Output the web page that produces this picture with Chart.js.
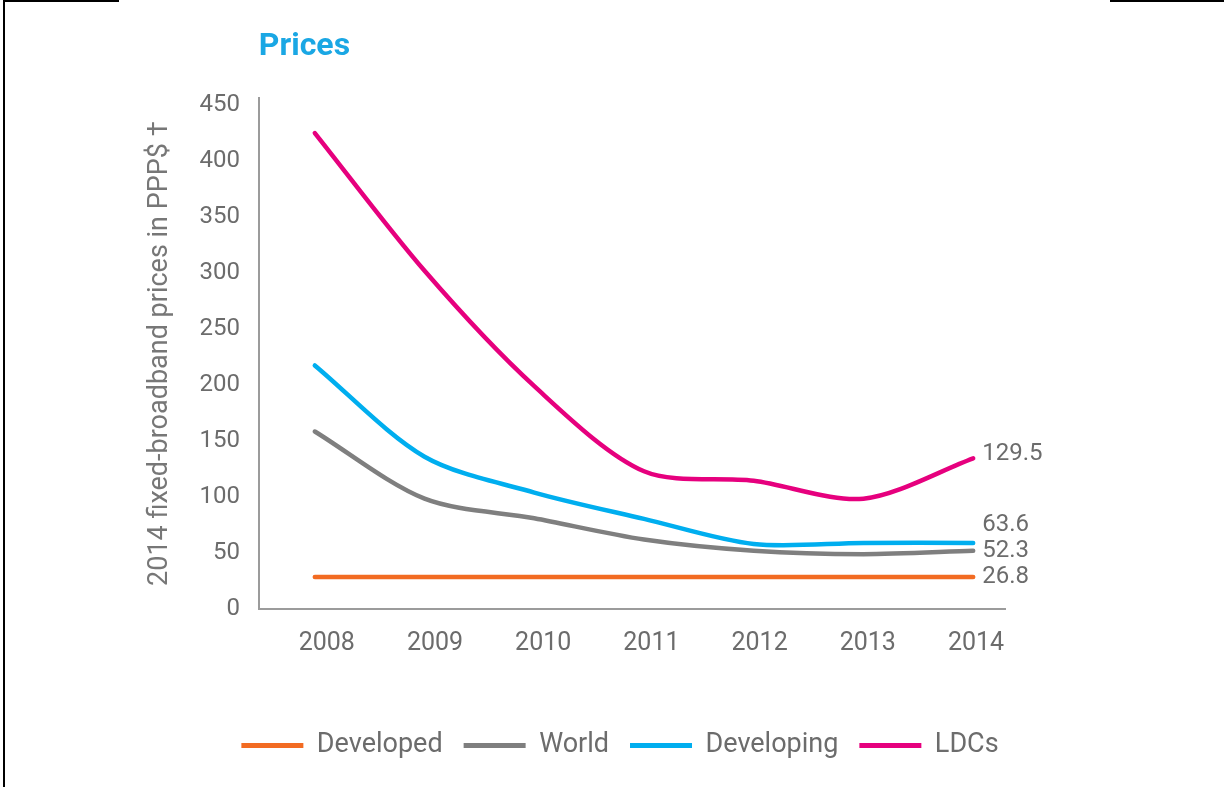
<!DOCTYPE html>
<html>
<head>
<meta charset="utf-8">
<title>Prices</title>
<script src="https://cdn.jsdelivr.net/npm/chart.js@4/dist/chart.umd.min.js"></script>
<style>
    html, body { margin: 0; padding: 0; background: #fff; }
    #wrap { position: relative; width: 1224px; height: 787px; overflow: hidden; }
    .rule { position: absolute; background: #000; }
</style>
</head>
<body>
<div id="wrap">
    <div class="rule" style="left:3px;top:0;width:2px;height:787px;"></div>
    <div class="rule" style="left:3px;top:0;width:116px;height:2px;"></div>
    <div class="rule" style="left:1110px;top:0;width:114px;height:2px;"></div>
    <canvas id="pricesChart" width="1224" height="787"></canvas>
</div>
<script>
(function () {
    'use strict';

    // ── data ──────────────────────────────────────────────────
    var years      = [2008, 2009, 2010, 2011, 2012, 2013, 2014];
    var developed  = [28.5, 28.5, 28.5, 28.5, 28.5, 28.5, 28.5];
    var world      = [158.5, 98.5, 81, 62, 52, 49, 52];
    var developing = [217.5, 136, 104, 80.5, 58, 59, 59];
    var ldcs       = [425, 302, 199, 123, 114.5, 98.5, 134.5];
    var seriesNames = ['Developed', 'World', 'Developing', 'LDCs'];
    var endLabels   = ['26.8', '52.3', '63.6', '129.5'];
    var yTicks      = [0, 50, 100, 150, 200, 250, 300, 350, 400, 450];

    // ── style ────────────────────────────────────────────────
    var COLORS      = ['#f26b22', '#7f7f7f', '#00aeef', '#e6007e'];
    var LABEL_NUDGE = [0, 0, -18, -4];   // keeps 63.6 clear of 52.3
    var TEXT_GREY   = '#6c6c6c';
    var AXIS_GREY   = '#9b9b9b';

    function toPoints(vals) {
        return vals.map(function (v, i) { return { x: years[i], y: v }; });
    }

    var allSeries = [developed, world, developing, ldcs];
    var datasets = allSeries.map(function (vals, i) {
        return {
            label: seriesNames[i],
            data: toPoints(vals),
            xAxisID: 'x',
            yAxisID: 'y',
            borderColor: COLORS[i],
            backgroundColor: COLORS[i],
            borderWidth: 4.5,
            pointRadius: 0,
            tension: 0.3,
            borderCapStyle: 'round',
            borderJoinStyle: 'round'
        };
    });

    // 線尾的數值標籤
    var endLabelPlugin = {
        id: 'endLabels',
        afterDatasetsDraw: function (chart) {
            var ctx = chart.ctx;
            ctx.save();
            ctx.font = '24px Roboto';
            ctx.fillStyle = TEXT_GREY;
            ctx.textAlign = 'left';
            ctx.textBaseline = 'middle';
            chart.data.datasets.forEach(function (ds, i) {
                var meta = chart.getDatasetMeta(i);
                var pt = meta.data[meta.data.length - 1];
                if (!pt) return;
                ctx.fillText(endLabels[i], pt.x + 9, pt.y + LABEL_NUDGE[i]);
            });
            ctx.restore();
        }
    };

    var canvas = document.getElementById('pricesChart');
    new Chart(canvas.getContext('2d'), {
        type: 'line',
        data: { datasets: datasets },
        plugins: [endLabelPlugin],
        options: {
            responsive: false,
            animation: false,
            layout: { padding: { left: 144, right: 128, top: 18, bottom: 18 } },
            plugins: {
                title: {
                    display: true,
                    text: 'Prices',
                    align: 'start',
                    fullSize: false,
                    color: '#1aa7e4',
                    font: { family: 'Roboto', size: 32, weight: 'bold' },
                    padding: { top: 10, bottom: 32 }
                },
                legend: {
                    position: 'bottom',
                    labels: {
                        boxWidth: 62,
                        boxHeight: 5,
                        padding: 21,
                        color: TEXT_GREY,
                        font: { family: 'Roboto', size: 27 },
                        generateLabels: function (chart) {
                            return Chart.defaults.plugins.legend.labels.generateLabels(chart).map(function (l) {
                                l.lineWidth = 0;
                                return l;
                            });
                        }
                    }
                },
                tooltip: { enabled: false }
            },
            scales: {
                // data axis (hidden) — places the points
                x: {
                    type: 'linear',
                    display: false,
                    min: 2007.49,
                    max: 2014.29
                },
                // label axis — the year labels in the reference sit a bit right of the points
                xl: {
                    type: 'linear',
                    position: 'bottom',
                    min: 2007.372,
                    max: 2014.268,
                    afterBuildTicks: function (axis) {
                        axis.ticks = years.map(function (y) { return { value: y }; });
                    },
                    afterFit: function (axis) { axis.height = 102; },
                    grid: { display: false, drawTicks: false },
                    border: { display: true, color: AXIS_GREY, width: 2 },
                    ticks: {
                        padding: 20,
                        color: TEXT_GREY,
                        font: { family: 'Roboto', size: 25 },
                        callback: function (v) { return String(v); }
                    }
                },
                y: {
                    type: 'linear',
                    min: 0,
                    max: 456,
                    afterBuildTicks: function (axis) {
                        axis.ticks = yTicks.map(function (v) { return { value: v }; });
                    },
                    grid: { display: false, drawTicks: false },
                    border: { display: true, color: AXIS_GREY, width: 2 },
                    ticks: {
                        padding: 19,
                        color: TEXT_GREY,
                        font: { family: 'Roboto', size: 24 }
                    },
                    title: {
                        display: true,
                        text: '2014 fixed-broadband prices in PPP$ \u2020',
                        color: '#777777',
                        font: { family: 'Roboto', size: 27 },
                        padding: { top: 0, bottom: 4 }
                    }
                },
                // empty right-hand spacer so the legend centres like the reference
                yr: {
                    type: 'linear',
                    position: 'right',
                    min: 0,
                    max: 456,
                    afterFit: function (axis) { axis.width = 91; },
                    grid: { display: false, drawTicks: false },
                    border: { display: false },
                    ticks: { display: false }
                }
            }
        }
    });
})();
</script>
</body>
</html>
